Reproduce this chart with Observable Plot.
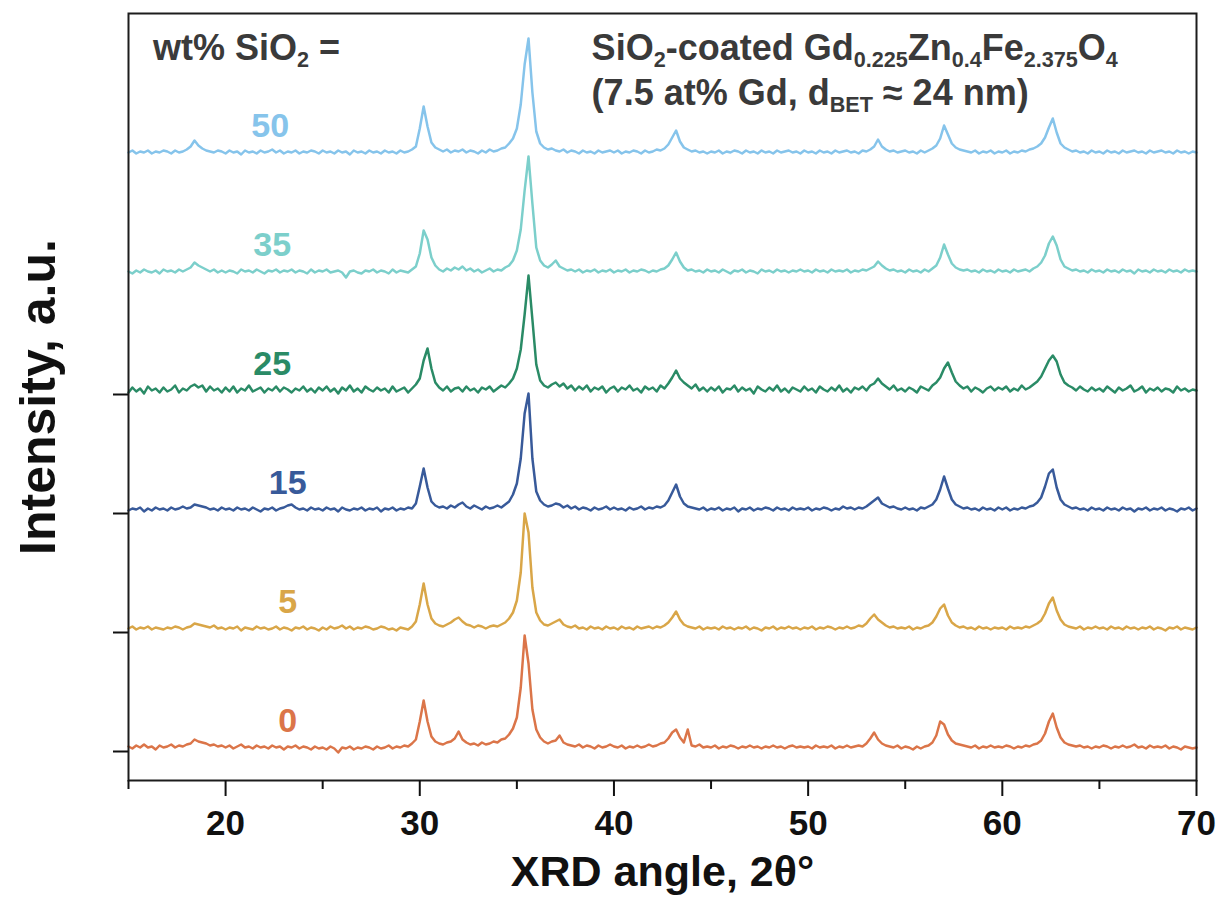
<!DOCTYPE html>
<html>
<head>
<meta charset="utf-8">
<script src="https://cdn.jsdelivr.net/npm/d3@7"></script>
<script src="https://cdn.jsdelivr.net/npm/@observablehq/plot@0.6"></script>
<style>
  html, body { margin: 0; padding: 0; background: #fff; }
</style>
</head>
<body>
<div id="chart"></div>
<script>
// Scan grid: 2θ from 15° to 70° in 0.2° steps (276 points per pattern)
const angleStart = 15;
const angleStep = 0.2;

// Samples (wt% SiO2), trace colours and the vertical stacking offset of each pattern
const wtSiO2 = ["0", "5", "15", "25", "35", "50"];
const traceColors = ["#db7549", "#d9a648", "#385a9a", "#2a8b66", "#7ccfcb", "#86c4eb"];
const stackOffset = [0, 119, 238, 357, 476, 595];

// Intensities (a.u.), one row per 5° of 2θ
const xrd0 = [
  5,3,6,4,7, 4,5,2,6,4, 5,7,4,6,5, 7,8,12,10,9, 8,6,7,5,6,
  4,6,3,5,7, 4,5,3,6,4, 5,3,6,4,5, 2,5,4,6,3, 5,4,2,5,3,
  4,2,5,3,-1, 4,3,5,2,4, 3,5,4,2,5, 3,4,6,3,5, 4,6,5,8,12,
  30,51,30,15,10, 8,7,9,10,13, 20,12,9,7,8, 6,9,7,8,10, 9,12,13,17,23,
  34,64,116,88,42, 22,14,10,8,10, 11,16,9,7,6, 5,7,4,6,5, 3,6,4,5,7,
  5,4,6,3,5, 4,6,4,5,7, 5,6,8,9,13, 19,22,14,9,22, 6,5,7,4,5,
  4,6,3,5,4, 6,5,3,5,4, 6,4,5,3,5, 4,6,4,5,3, 5,6,4,5,4,
  5,3,6,4,5, 4,6,3,5,4, 6,4,5,6,5, 8,13,19,12,8, 6,5,4,6,3,
  5,4,2,5,3, 5,6,9,16,30, 27,17,11,8,7, 6,5,4,6,3, 5,4,6,4,5,
  4,6,5,3,5, 4,6,5,7,8, 11,18,30,38,24, 14,9,7,6,5, 6,4,5,3,5,
  4,6,5,3,5, 4,6,4,5,7, 4,5,3,6,4, 5,4,6,3,5, 4,2,5,4,3,
  4
];
const xrd5 = [
  4,6,3,5,4, 6,3,5,4,3, 5,4,6,5,3, 5,6,9,8,7, 6,5,7,4,5,
  3,5,4,6,2, 5,4,3,6,4, 5,3,4,6,3, 5,4,2,5,4, 6,3,5,4,2,
  5,3,6,4,5, 7,4,6,3,5, 4,6,5,3,4, 6,5,3,4,2, 5,4,3,6,11,
  28,49,28,14,9, 7,6,8,10,13, 15,11,8,7,5, 7,6,4,6,7, 6,8,10,14,20,
  32,60,119,100,45, 20,12,8,7,9, 11,13,8,6,5, 7,4,5,3,6, 4,5,3,6,4,
  5,3,6,4,5, 3,6,4,5,6, 4,6,5,7,10, 15,21,13,8,6, 5,4,6,3,5,
  4,5,3,6,4, 5,3,5,4,6, 3,5,4,2,5, 4,6,3,5,4, 6,4,5,3,5,
  4,6,3,5,4, 6,5,3,5,4, 6,4,5,7,6, 9,14,18,13,10, 7,5,6,4,5,
  4,6,3,5,4, 6,7,10,16,24, 28,17,10,7,5, 6,4,5,3,6, 4,5,3,5,4,
  5,3,6,4,5, 4,6,5,7,9, 12,19,29,35,22, 13,8,6,5,4, 6,3,5,4,6,
  4,5,3,6,4, 5,3,6,4,5, 3,5,4,6,3, 5,4,2,5,4, 6,3,5,4,3,
  5
];
const xrd15 = [
  3,5,4,6,2, 5,3,6,4,5, 3,6,4,5,7, 5,6,9,8,7, 6,4,5,3,6,
  4,5,3,6,4, 5,3,6,4,2, 5,4,6,3,5, 6,8,9,6,4, 5,3,6,4,5,
  3,6,4,5,2, 6,4,3,5,4, 6,3,5,4,6, 2,5,4,6,3, 5,4,6,5,10,
  27,45,26,12,8, 6,7,5,8,6, 9,11,7,5,8, 6,4,7,5,6, 8,6,9,12,19,
  30,55,100,120,55, 22,13,9,7,8, 10,9,6,8,5, 7,4,6,5,3, 6,4,5,7,4,
  6,4,5,3,6, 4,5,7,4,6, 5,7,6,8,13, 21,29,17,10,7, 6,5,4,6,3,
  5,4,6,3,5, 4,6,2,5,4, 6,3,5,4,6, 5,3,6,4,5, 3,6,4,5,4,
  6,3,5,4,6, 5,3,5,4,7, 5,6,4,6,5, 7,10,13,16,10, 8,6,7,5,4,
  6,4,5,3,6, 5,7,9,14,24, 37,25,14,9,7, 5,6,4,5,3, 6,4,5,3,6,
  4,6,3,5,4, 6,5,7,8,11, 16,27,40,44,26, 14,9,7,5,6, 4,5,3,6,4,
  5,3,6,4,5, 3,6,4,5,2, 5,4,6,3,5, 4,6,3,5,4, 2,5,4,6,3,
  5
];
const xrd25 = [
  2,7,3,6,1, 8,4,6,2,7, 3,5,9,2,6, 4,8,10,7,9, 3,8,4,6,2,
  7,3,8,2,6, 4,9,3,5,7, 2,6,4,8,3, 7,5,2,6,4, 8,3,6,2,7,
  4,8,3,6,1, 7,4,9,3,6, 2,8,5,3,7, 4,6,2,8,3, 5,7,2,6,10,
  16,34,46,26,12, 7,4,8,3,6, 7,3,8,4,6, 2,7,5,8,3, 6,9,7,11,16,
  26,45,80,119,75, 30,14,9,7,10, 12,8,11,6,9, 4,8,5,9,3, 7,5,8,2,6,
  8,3,7,5,9, 4,6,2,8,5, 7,3,9,6,11, 17,24,16,12,9, 6,10,4,7,3,
  7,4,8,2,6, 5,9,3,7,4, 6,1,8,5,3, 7,4,9,3,6, 2,7,5,3,8,
  4,6,2,8,5, 3,7,4,9,3, 6,2,7,5,8, 4,9,11,16,11, 8,5,9,4,6,
  3,7,5,2,8, 6,4,9,12,17, 26,32,22,13,9, 6,8,3,7,5, 2,6,8,4,7,
  5,8,3,6,4, 9,5,7,10,13, 18,26,34,39,33, 20,12,9,7,4, 8,5,3,7,4,
  6,3,8,5,2, 7,4,6,9,3, 5,8,2,6,4, 7,3,6,5,2, 8,4,6,3,5,
  4
];
const xrd35 = [
  4,2,5,3,6, 4,3,5,2,6, 4,5,3,6,4, 6,8,13,10,8, 6,4,6,3,5,
  3,5,4,2,6, 4,5,3,6,4, 2,5,4,6,3, 5,4,6,3,5, 4,2,6,3,5,
  4,6,3,4,5, 3,-2,4,5,3, 2,5,4,6,3, 5,4,2,6,3, 5,4,3,6,9,
  22,45,36,18,10, 6,4,7,5,8, 6,9,5,7,4, 6,3,5,7,4, 6,5,8,10,15,
  25,46,85,119,72, 28,15,10,8,11, 15,9,7,5,6, 4,6,3,5,4, 6,3,5,4,6,
  3,5,4,6,3, 5,4,6,5,3, 5,4,6,7,10, 16,23,14,8,5, 6,4,5,3,6,
  4,5,3,6,4, 2,5,4,6,3, 5,4,2,6,4, 5,3,6,4,5, 3,5,4,6,4,
  5,3,6,4,5, 3,6,4,5,4, 6,3,5,4,6, 5,7,9,14,10, 7,5,6,4,5,
  3,6,4,5,3, 6,4,7,10,18, 31,21,12,8,6, 5,6,4,5,3, 6,4,5,3,6,
  4,5,3,6,4, 5,6,4,7,9, 13,20,32,39,30, 16,9,7,5,6, 4,5,3,6,4,
  5,3,6,4,5, 3,6,4,5,2, 6,4,5,3,6, 4,5,3,6,4, 5,3,6,4,5,
  4
];
const xrd50 = [
  4,6,3,5,4, 6,3,5,4,6, 5,3,6,4,5, 7,10,16,11,8, 6,5,4,6,5,
  3,6,4,5,2, 6,4,5,3,6, 4,5,7,4,6, 3,5,4,6,3, 5,4,6,5,3,
  6,4,5,3,6, 4,5,2,6,4, 5,3,6,4,5, 3,6,4,5,3, 6,4,5,7,10,
  28,50,30,14,9, 7,5,7,4,6, 5,7,4,6,5, 3,6,4,7,5, 6,8,9,13,18,
  28,52,92,118,64, 25,13,9,7,8, 6,5,7,4,6, 5,3,6,4,5, 3,6,4,5,6,
  4,6,3,5,4, 6,5,3,6,4, 5,7,6,8,12, 19,26,15,9,7, 5,6,4,5,3,
  5,4,6,3,5, 4,6,5,3,6, 4,5,3,6,4, 5,3,6,4,5, 6,4,5,3,6,
  4,5,3,6,4, 5,3,6,4,5, 6,4,5,3,6, 5,7,10,17,10, 7,5,6,4,5,
  6,4,5,3,6, 4,6,8,11,18, 31,22,13,9,7, 6,5,4,6,3, 5,4,6,3,5,
  4,6,3,5,4, 6,5,7,8,10, 13,19,29,38,24, 13,9,7,5,6, 4,5,3,6,4,
  5,3,6,4,5, 3,6,4,5,6, 4,5,3,6,4, 5,6,4,5,3, 6,4,5,3,5,
  4
];

// Axis ticks
const majorTicks = [20, 30, 40, 50, 60, 70];
const minorTicks = [15, 25, 35, 45, 55, 65];
const baselineTicks = [0, 119, 238, 357];

// Text
const xTitle = "XRD angle, 2θ°";
const yTitle = "Intensity, a.u.";
const legendHead = "wt% SiO_{2} =";
const sampleLine1 = "SiO_{2}-coated Gd_{0.225}Zn_{0.4}Fe_{2.375}O_{4}";
const sampleLine2 = "(7.5 at% Gd, d_{BET} ≈ 24 nm)";

const patterns = [xrd0, xrd5, xrd15, xrd25, xrd35, xrd50];
patterns.forEach((p, k) => {
  if (p.length !== 276) throw new Error(`pattern ${wtSiO2[k]} has ${p.length} points`);
});

// Long table for the line mark: each pattern lifted by its stacking offset
const rows = patterns.flatMap((values, k) =>
  values.map((v, i) => ({
    angle: +(angleStart + i * angleStep).toFixed(1),
    intensity: v + stackOffset[k],
    sample: wtSiO2[k]
  }))
);

// Layout of the sample labels (2θ of their centre, lift above each baseline)
const labelAngle = [23.2, 23.2, 23.2, 22.4, 22.4, 22.3];
const labelLift = 30;

const font = "'Liberation Sans', Arial, Helvetica, sans-serif";
const annotationSize = 36;

const chart = Plot.plot({
  width: 1218,
  height: 897,
  marginLeft: 128,
  marginRight: 22,
  marginTop: 13,
  marginBottom: 117,
  style: { fontFamily: font, fontWeight: "bold", color: "#111", background: "#fff" },
  x: { domain: [15, 70] },
  y: { domain: [-29, 738] },
  color: { domain: wtSiO2, range: traceColors },
  marks: [
    Plot.line(rows, {
      x: "angle", y: "intensity", z: "sample", stroke: "sample",
      strokeWidth: 2.5, strokeLinejoin: "round"
    }),
    Plot.frame({ stroke: "#1c1c1c", strokeWidth: 2 }),
    Plot.axisX(majorTicks, { tickSize: 16, tickPadding: 14, fontSize: 35, strokeWidth: 2, label: null }),
    Plot.axisX(minorTicks, { tickSize: 9, tickFormat: () => "", strokeWidth: 2, label: null }),
    Plot.axisY(baselineTicks, { tickSize: 15, tickFormat: () => "", strokeWidth: 2, label: null }),
    // sample labels above each pattern
    Plot.text(wtSiO2, {
      x: (d, i) => labelAngle[i], y: (d, i) => stackOffset[i] + labelLift,
      text: (d) => d, fill: (d) => d, fontSize: 34, lineAnchor: "middle", textAnchor: "middle"
    }),
    // axis titles
    Plot.text([xTitle], {
      frameAnchor: "bottom", dy: 75, lineAnchor: "top", textAnchor: "middle",
      text: (d) => d, fontSize: 43, fill: "#111"
    }),
    Plot.text([yTitle], {
      frameAnchor: "left", dx: -90, rotate: -90, textAnchor: "middle", lineAnchor: "middle",
      text: (d) => d, fontSize: 50, fill: "#111"
    }),
    // annotations
    Plot.text([legendHead], {
      x: () => 16.26, y: () => 692, text: (d) => d, textAnchor: "start", lineAnchor: "bottom",
      fontSize: annotationSize, fill: "#3a3a3a"
    }),
    Plot.text([sampleLine1, sampleLine2], {
      x: () => 38.85, y: (d, i) => (i === 0 ? 692 : 647), text: (d) => d, textAnchor: "start", lineAnchor: "bottom",
      fontSize: annotationSize, fill: "#3a3a3a"
    })
  ]
});

// Turn the _{...} markers into real subscripts
const subShift = 0.2 * annotationSize;
d3.select(chart).selectAll("text")
  .filter(function () { return this.textContent.includes("_{"); })
  .each(function () {
    const el = d3.select(this);
    const parts = this.textContent.split(/(_\{[^}]*\})/).filter(Boolean);
    el.text(null);
    let lowered = false;
    for (const part of parts) {
      const m = /^_\{(.*)\}$/.exec(part);
      const span = el.append("tspan");
      if (m) {
        span.text(m[1]).attr("font-size", annotationSize * 0.6).attr("dy", lowered ? 0 : subShift);
        lowered = true;
      } else {
        span.text(part).attr("dy", lowered ? -subShift : 0);
        lowered = false;
      }
    }
  });

document.getElementById("chart").appendChild(chart);
</script>
</body>
</html>
